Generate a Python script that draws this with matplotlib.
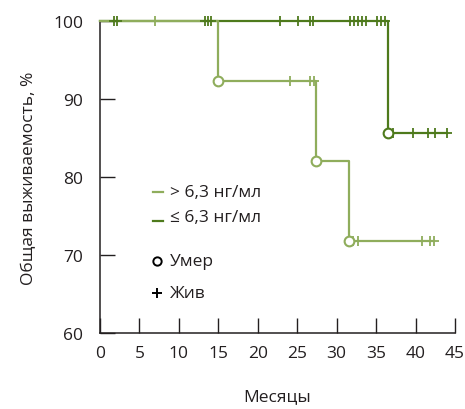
import matplotlib
matplotlib.use("Agg")
import matplotlib.pyplot as plt

# > 6,3 ng/ml group
hi_times = [0, 15.0, 27.4, 31.6]
hi_surv = [100, 92.3, 82.1, 71.8]
hi_end = 42.3
hi_cens_t = [7.0, 24.1, 26.6, 27.1, 32.1, 32.7, 40.8, 41.8, 42.3]

# <= 6,3 ng/ml group
lo_times = [0, 36.5]
lo_surv = [100, 85.7]
lo_end = 44.0
lo_cens_t = [1.8, 2.2, 13.3, 13.7, 14.1, 22.8, 25.1, 26.6, 27.0,
             31.7, 32.2, 32.7, 33.2, 33.7, 35.1, 35.6, 36.1,
             37.1, 39.7, 41.6, 42.5, 44.0]

x_ticks = [0, 5, 10, 15, 20, 25, 30, 35, 40, 45]
y_ticks = [60, 70, 80, 90, 100]

LIGHT = "#8fad5c"
DARK = "#4e7a1c"
TXT = "#231f20"

plt.rcParams["font.family"] = ["Open Sans", "DejaVu Sans"]


def surv_at(times, surv, t):
    s = surv[0]
    for ti, si in zip(times, surv):
        if t >= ti:
            s = si
    return s


fig = plt.figure(figsize=(4.65, 4.10), dpi=100)
ax = fig.add_axes([100 / 465, 76 / 410, 355 / 465, 312 / 410])

for times, surv, end, cens, col, z in [
    (lo_times, lo_surv, lo_end, lo_cens_t, DARK, 2),
    (hi_times, hi_surv, hi_end, hi_cens_t, LIGHT, 3),
]:
    xs = list(times) + [end]
    ys = list(surv) + [surv[-1]]
    ax.step(xs, ys, where="post", color=col, lw=1.6, zorder=z, clip_on=False)
    cy = [surv_at(times, surv, t) for t in cens]
    ax.plot(cens, cy, ls="none", marker="+", ms=7, mew=1.3, color=col,
            zorder=z + 2, clip_on=False)
    ax.plot(times[1:], surv[1:], ls="none", marker="o", ms=7, mew=1.5,
            mfc="white", mec=col, zorder=z + 3, clip_on=False)

ax.set_xlim(0, 45)
ax.set_ylim(60, 100)
ax.set_xticks(x_ticks)
ax.set_yticks(y_ticks)
for s in ["top", "right"]:
    ax.spines[s].set_visible(False)
for s in ["left", "bottom"]:
    ax.spines[s].set_color(TXT)
    ax.spines[s].set_linewidth(1.1)
ax.tick_params(direction="in", length=11, width=1.0, color=TXT,
               labelcolor=TXT, labelsize=12.5)
ax.tick_params(axis="x", pad=9)
ax.tick_params(axis="y", pad=12)

ax.set_xlabel("Месяцы", fontsize=12.5, color=TXT, labelpad=19)
ax.set_ylabel("Общая выживаемость, %", fontsize=12.5, color=TXT, labelpad=12)

# legend drawn by hand to keep the original uneven spacing
tr = ax.transAxes


def ax_pt(px, py):
    return ((px - 100) / 355, (334 - py) / 312)


x0, y0 = ax_pt(153, 193)
x1, _ = ax_pt(163, 193)
xt, _ = ax_pt(170, 193)
ax.plot([x0, x1], [y0, y0], color=LIGHT, lw=1.6, transform=tr)
ax.text(xt, y0, "> 6,3 нг/мл", transform=tr, va="center",
        fontsize=12.5, color=TXT)
_, y1 = ax_pt(0, 222)
ax.plot([x0, x1], [y1, y1], color=DARK, lw=1.6, transform=tr)
_, y1t = ax_pt(0, 218)
ax.text(xt, y1t, "≤ 6,3 нг/мл", transform=tr, va="center",
        fontsize=12.5, color=TXT)
xm, y2 = ax_pt(157, 262)
ax.plot([xm], [y2], marker="o", ms=6, mfc="white", mec="black", mew=1.4,
        transform=tr)
ax.text(xt, y2, "Умер", transform=tr, va="center", fontsize=12.5, color=TXT)
_, y3 = ax_pt(0, 294)
ax.plot([xm], [y3], marker="+", ms=7, mec="black", mew=1.4, transform=tr)
ax.text(xt, y3, "Жив", transform=tr, va="center", fontsize=12.5, color=TXT)

fig.savefig("out.png", dpi=100)
